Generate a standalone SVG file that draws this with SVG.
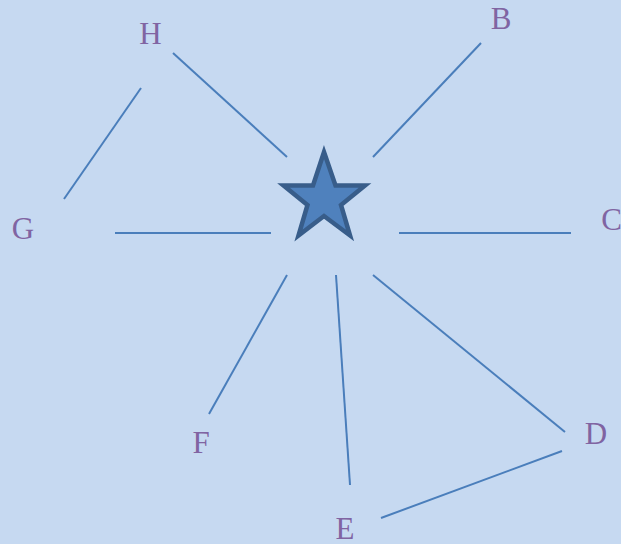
<svg xmlns="http://www.w3.org/2000/svg" width="621" height="544" viewBox="0 0 621 544">
<style>
.lbl{font-family:"Liberation Serif","Times New Roman",serif;font-size:31px;fill:#8064a2;text-anchor:middle}
.ln{stroke:#4a7ebb;stroke-width:2;fill:none}
</style>
<rect width="621" height="544" fill="#c6d9f1"/>
<g id="connectors">
<line class="ln" x1="173" y1="53" x2="287" y2="157"/>
<line class="ln" x1="481" y1="43" x2="373" y2="157"/>
<line class="ln" x1="141" y1="88" x2="64" y2="199"/>
<line class="ln" x1="115" y1="233" x2="271" y2="233"/>
<line class="ln" x1="399" y1="233" x2="571" y2="233"/>
<line class="ln" x1="287" y1="275" x2="209" y2="414"/>
<line class="ln" x1="336" y1="275" x2="350" y2="485"/>
<line class="ln" x1="373" y1="275" x2="565" y2="432"/>
<line class="ln" x1="562" y1="451" x2="381" y2="518"/>
</g>
<g id="star">
<polygon points="324,152 335.5,185.5 365,185.5 341,205 350,235.5 324,216 298.5,235.5 307.5,205 283.5,185.5 313,185.5" fill="#4f81bd" stroke="#385d8a" stroke-width="4.5" stroke-linejoin="miter"/>
</g>
<g id="node-H"><text class="lbl" x="150.5" y="44">H</text></g>
<g id="node-B"><text class="lbl" x="501" y="29">B</text></g>
<g id="node-C"><text class="lbl" x="611.5" y="230">C</text></g>
<g id="node-D"><text class="lbl" x="596" y="444">D</text></g>
<g id="node-E"><text class="lbl" x="345" y="539">E</text></g>
<g id="node-F"><text class="lbl" x="201" y="453">F</text></g>
<g id="node-G"><text class="lbl" x="23" y="239">G</text></g>
</svg>
